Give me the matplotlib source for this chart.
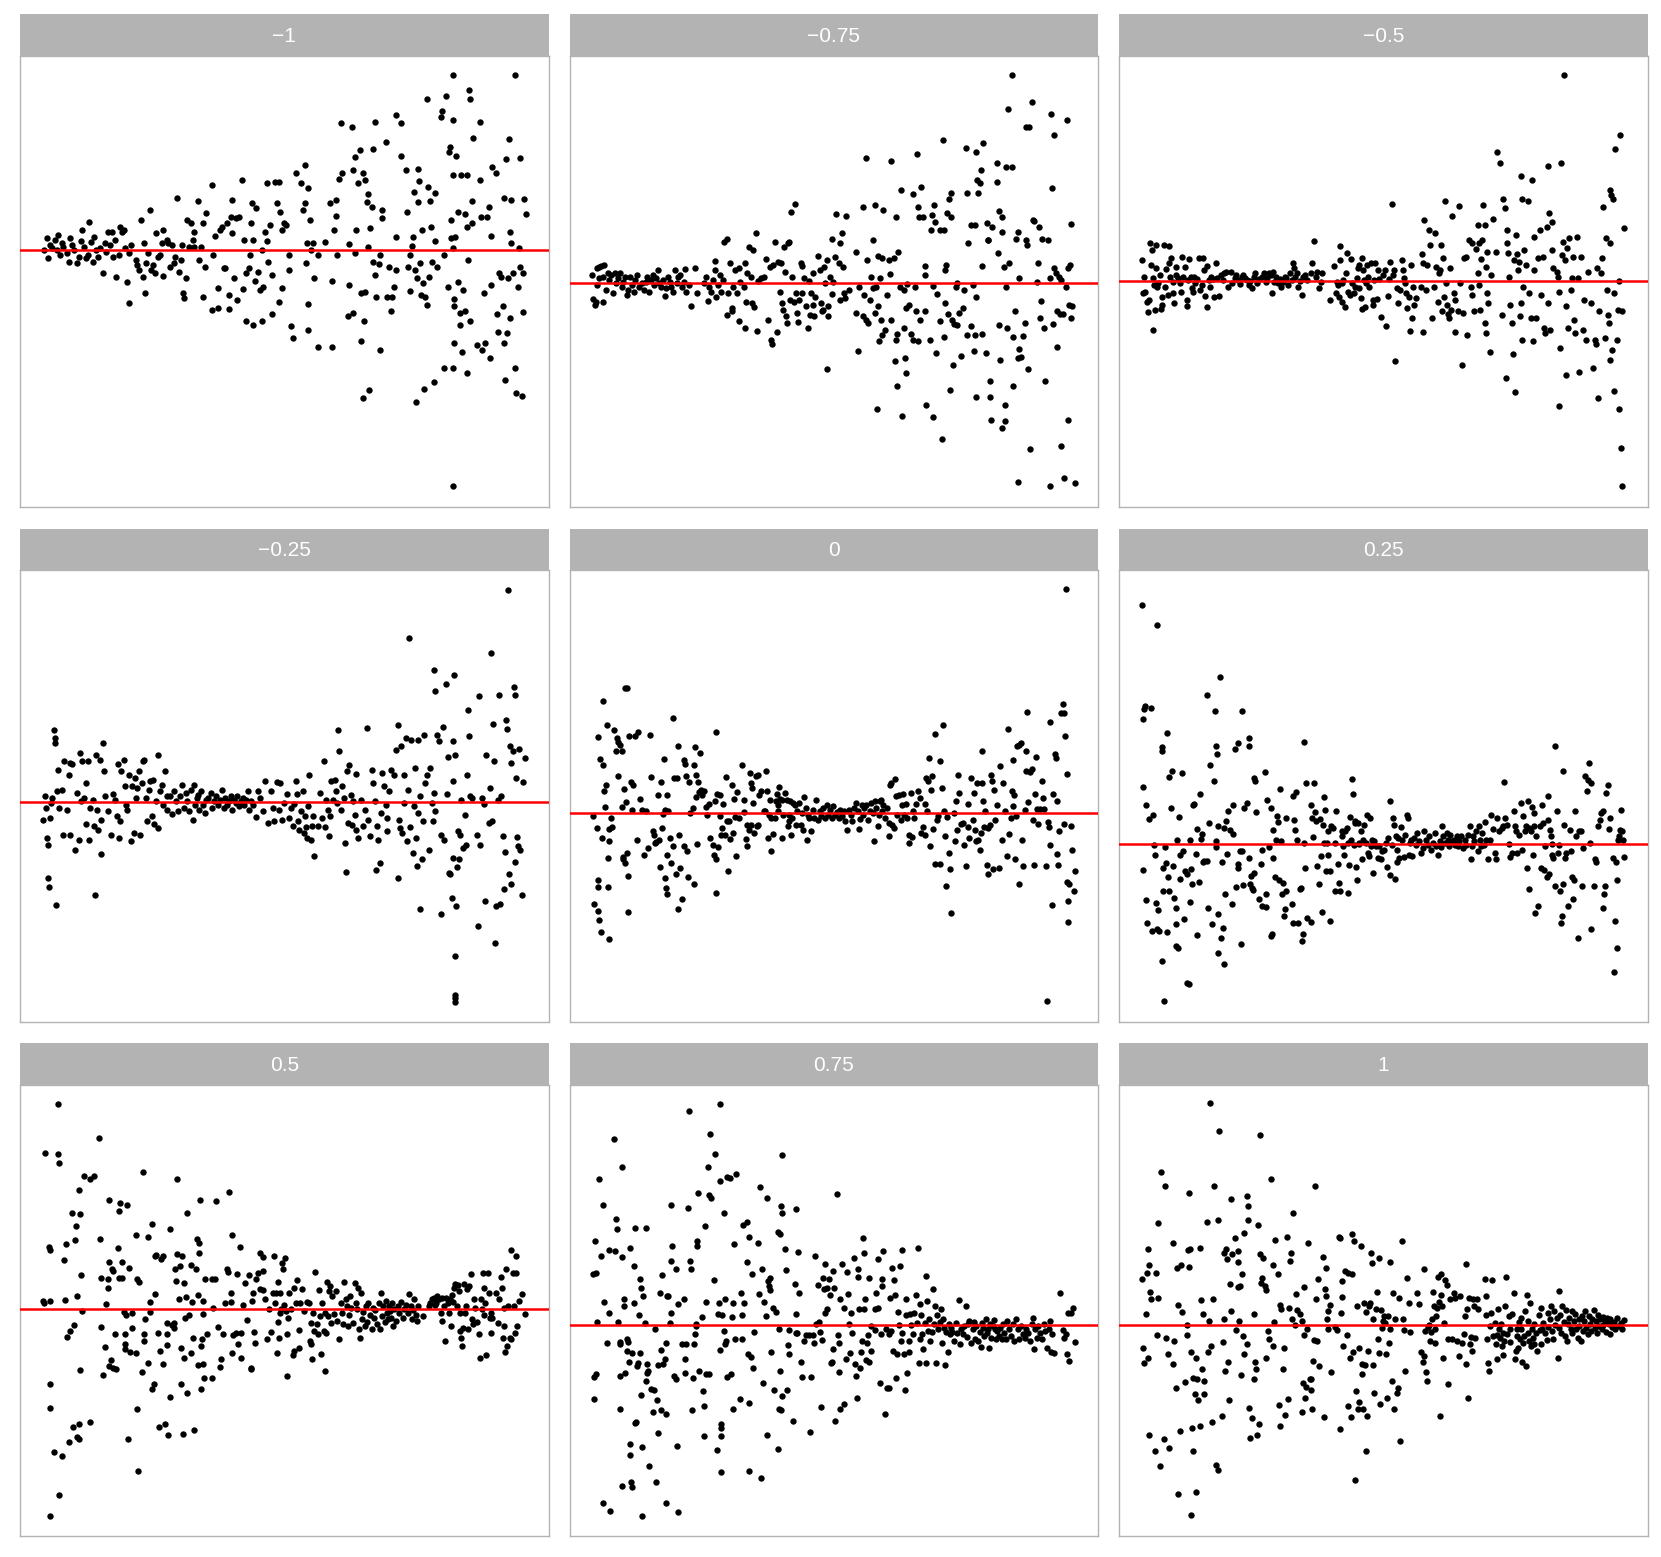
import numpy as np
import matplotlib
matplotlib.use("Agg")
import matplotlib.pyplot as plt

# Facet labels and reference-line level (values read on each panel's own scale;
# y grows downward on the reading scale, so axes are inverted)
panel_labels = ["\u22121", "\u22120.75", "\u22120.5", "\u22120.25", "0", "0.25", "0.5", "0.75", "1"]
hline_y = [720, 820, 812, 833, 866, 958, 810, 858, 858]

pts_m100 = [(92,683),(85,720),(95,745),(100,705),(108,715),(115,690),(120,720),(125,676),(130,735),(135,700),(140,712),(150,730),(155,755),(160,683),(165,705),(170,720),(178,760),(185,740),(190,693),(195,660),(200,710),(205,745),(210,735),(215,635),(220,695),(225,755),(230,680),(235,720),(240,740),(245,715),(255,790),(260,700),(265,725),(270,665),(275,705),(280,665),(285,740),(290,690),(293,800),(300,735),(305,650),(310,665),(315,660),(320,715),(325,815),(330,730),(335,705),(330,880),(350,750),(355,765),(360,780),(365,630),(370,800),(375,700),(378,848),(380,760),(385,730),(390,600),(395,780),(400,765),(405,790),(410,670),(415,740),(420,735),(425,700),(430,660),(430,797),(440,690),(445,700),(450,770),(455,705),(460,760),(465,740),(470,565),(475,785),(480,750),(485,705),(488,850),(490,865),(495,805),(500,630),(505,710),(510,640),(515,690),(518,665),(520,710),(530,572),(535,750),(540,710),(545,640),(545,860),(550,770),(555,610),(570,525),(572,900),(575,735),(580,678),(588,895),(590,835),(595,660),(600,650),(605,775),(610,775),(615,640),(620,855),(622,897),(625,620),(628,670),(630,570),(635,805),(640,625),(645,870),(650,620),(658,510),(662,838),(665,690),(670,935),(670,790),(680,775),(683,735),(685,640),(688,580),(690,690),(690,945),(695,812),(700,595),(705,785),(710,840),(715,720),(715,935),(720,830),(725,665),(730,692),(730,520),(735,755),(740,645),(745,912),(745,795),(755,515),(760,580),(765,515),(765,875),(770,605),(775,660),(775,835),(780,640),(785,645),(795,735),(795,780),(800,950),(805,985),(815,490),(830,520),(835,600),(840,580),(840,465),(845,760),(848,700),(850,535),(850,883),(850,960),(855,630),(858,720),(865,700),(868,805),(878,735),(880,1012),(900,695),(915,580),(920,812),(920,1012),(925,660),(930,570),(930,617),(935,735),(940,508),(945,338),(950,488),(965,920),(968,703),(970,825),(978,352),(980,910),(985,730),(986,440),(980,480),(990,660),(995,520),(1000,420),(1005,850),(1005,993),(1010,1165),(1010,490),(1012,935),(1015,510),(1015,845),(1020,575),(1025,710),(1025,552),(1028,1140),(1030,655),(1035,590),(1038,418),(1040,755),(1045,795),(1045,335),(1048,860),(1055,762),(1058,735),(1058,1022),(1065,625),(1065,600),(1075,395),(1080,860),(1085,770),(1090,905),(1095,860),(1100,830),(1105,315),(1105,780),(1105,680),(1120,340),(1120,437),(1135,480),(1138,605),(1140,770),(1145,735),(1145,842),(1152,708),(1155,680),(1158,545),(1160,780),(1163,1178),(1165,805),(1168,477),(1170,575),(1172,512),(1175,760),(1178,855),(1180,660),(1185,820),(1188,1138),(1190,860),(1195,885),(1195,268),(1198,530),(1200,800),(1205,572),(1208,652),(1210,755),(1215,1118),(1218,692),(1220,550),(1225,770),(1235,320),(1238,303),(1245,1075),(1245,735),(1250,258),(1255,832),(1258,425),(1262,410),(1265,630),(1265,685),(1270,195),(1270,330),(1270,495),(1270,715),(1272,1430),(1272,1075),(1275,868),(1275,890),(1275,1000),(1278,682),(1280,437),(1285,605),(1285,815),(1290,910),(1290,945),(1295,495),(1298,1028),(1300,840),(1305,612),(1305,905),(1310,1090),(1310,495),(1312,650),(1315,750),(1318,240),(1320,268),(1320,935),(1325,640),(1325,572),(1328,385),(1340,1005),(1350,335),(1350,510),(1352,620),(1355,1020),(1360,848),(1365,1000),(1370,620),(1375,590),(1378,1045),(1380,678),(1382,825),(1385,470),(1395,488),(1398,912),(1400,968),(1405,790),(1410,800),(1415,888),(1418,1000),(1420,565),(1422,1110),(1425,448),(1428,970),(1430,805),(1432,388),(1435,665),(1435,925),(1440,700),(1440,570),(1445,790),(1450,1075),(1452,195),(1455,1150),(1460,830),(1462,715),(1465,445),(1465,770),(1470,1160),(1475,790),(1475,908),(1477,568),(1482,612)]

pts_m075 = [(80,795),(82,868),(88,885),(90,875),(95,775),(100,770),(105,768),(110,875),(115,765),(95,825),(100,805),(110,800),(120,840),(125,790),(130,810),(135,795),(140,850),(145,790),(150,820),(155,805),(160,790),(165,830),(170,815),(175,800),(180,855),(185,840),(190,800),(195,825),(200,845),(205,810),(210,795),(215,830),(225,820),(230,840),(235,815),(240,800),(245,845),(250,810),(255,795),(260,825),(265,805),(270,780),(275,820),(280,830),(285,810),(290,858),(295,835),(300,800),(305,815),(310,830),(315,845),(320,780),(325,820),(330,800),(335,795),(340,830),(345,815),(348,778),(352,845),(360,825),(368,890),(378,775),(385,850),(405,820),(410,800),(415,872),(420,830),(425,845),(430,810),(435,780),(437,752),(440,860),(445,825),(450,795),(455,845),(460,810),(462,697),(470,688),(470,915),(475,850),(480,760),(485,905),(487,895),(490,830),(495,780),(500,850),(505,775),(505,935),(510,815),(520,830),(522,760),(522,955),(525,875),(530,790),(535,710),(540,800),(545,880),(548,720),(550,893),(555,670),(558,965),(560,812),(570,805),(578,800),(585,748),(590,930),(595,770),(600,990),(602,1003),(605,765),(610,695),(615,968),(620,755),(625,845),(628,760),(632,880),(635,900),(636,710),(640,785),(642,920),(645,940),(648,700),(650,695),(655,870),(656,605),(660,800),(665,875),(668,583),(670,850),(675,910),(678,938),(680,870),(685,760),(688,768),(690,848),(695,805),(700,890),(705,955),(708,812),(712,915),(715,850),(720,885),(720,790),(725,920),(728,860),(735,738),(740,780),(745,880),(748,905),(750,900),(752,770),(755,820),(760,1078),(762,750),(765,890),(765,920),(770,800),(775,852),(776,688),(780,815),(785,740),(788,613),(795,760),(800,870),(800,698),(805,668),(808,770),(812,848),(815,865),(818,617),(825,840),(845,910),(847,727),(850,1025),(855,830),(865,590),(865,920),(870,855),(874,930),(876,443),(878,750),(880,940),(885,870),(890,800),(895,690),(895,835),(900,910),(902,585),(905,832),(906,1198),(908,738),(910,890),(912,995),(915,805),(918,930),(920,745),(922,975),(925,600),(930,960),(935,855),(940,750),(945,792),(948,453),(948,930),(955,745),(958,1055),(962,622),(962,990),(965,972),(965,1130),(968,725),(972,830),(975,540),(980,1218),(985,840),(985,955),(988,1045),(990,1090),(992,895),(995,823),(1000,885),(1005,972),(1010,552),(1012,990),(1018,830),(1020,905),(1022,432),(1025,590),(1025,995),(1028,620),(1030,930),(1033,532),(1040,620),(1045,905),(1045,768),(1045,795),(1050,1185),(1060,990),(1062,660),(1065,615),(1068,1222),(1070,828),(1072,585),(1075,635),(1078,1030),(1080,852),(1088,660),(1090,935),(1095,1288),(1098,390),(1100,982),(1102,660),(1103,880),(1105,780),(1108,765),(1110,608),(1112,912),(1115,568),(1118,1142),(1120,548),(1120,620),(1123,930),(1128,1065),(1130,942),(1135,830),(1138,818),(1140,945),(1145,910),(1150,1040),(1155,895),(1160,840),(1165,415),(1168,975),(1168,548),(1172,700),(1178,645),(1180,950),(1185,825),(1188,1025),(1190,645),(1190,975),(1195,1163),(1195,860),(1195,425),(1198,510),(1200,548),(1205,520),(1208,480),(1210,768),(1210,972),(1215,400),(1222,1030),(1225,640),(1228,690),(1230,690),(1235,1162),(1235,1115),(1238,1230),(1240,650),(1255,460),(1255,515),(1258,728),(1260,945),(1262,602),(1265,1050),(1268,620),(1270,665),(1270,1255),(1275,770),(1278,1185),(1278,1235),(1280,470),(1282,830),(1285,955),(1288,298),(1290,760),(1298,470),(1298,194),(1300,982),(1302,1128),(1308,905),(1310,688),(1315,665),(1315,1045),(1316,1418),(1318,1018),(1320,805),(1325,1043),(1330,980),(1335,940),(1338,690),(1340,350),(1342,705),(1345,1078),(1348,350),(1350,1318),(1355,275),(1358,630),(1362,632),(1370,815),(1375,760),(1378,652),(1380,925),(1382,872),(1385,688),(1390,955),(1395,1115),(1403,690),(1408,805),(1408,1430),(1412,312),(1415,535),(1418,942),(1420,775),(1420,375),(1425,790),(1428,905),(1430,1012),(1435,800),(1438,912),(1440,1310),(1442,810),(1445,912),(1448,1405),(1455,830),(1458,330),(1460,775),(1462,1230),(1465,885),(1468,765),(1470,643),(1470,925),(1472,890),(1480,1420)]

pts_m050 = [(82,750),(85,850),(88,800),(90,845),(95,875),(98,908),(100,870),(104,698),(108,765),(110,720),(112,805),(113,960),(115,825),(118,902),(120,705),(122,775),(125,830),(128,820),(132,795),(135,898),(138,860),(140,885),(145,705),(148,830),(150,778),(155,855),(158,708),(160,760),(162,800),(165,745),(170,850),(172,815),(175,880),(178,795),(180,770),(185,805),(190,820),(195,845),(198,740),(200,800),(205,770),(210,870),(212,890),(215,810),(218,748),(222,800),(225,835),(228,845),(232,800),(235,820),(240,808),(245,745),(250,840),(255,825),(258,745),(260,780),(265,858),(268,768),(270,892),(275,810),(278,830),(282,800),(288,808),(290,860),(295,760),(298,805),(305,858),(310,795),(315,810),(320,790),(325,785),(330,830),(338,785),(342,820),(350,805),(355,795),(360,810),(365,822),(370,800),(375,795),(380,805),(385,810),(390,825),(395,812),(400,835),(405,800),(410,790),(415,820),(420,808),(430,800),(435,790),(440,815),(445,805),(450,790),(455,795),(458,850),(462,785),(465,815),(470,800),(475,820),(480,808),(485,830),(490,815),(495,800),(500,805),(505,825),(510,790),(515,810),(520,758),(522,775),(525,800),(530,790),(535,830),(540,812),(545,855),(548,800),(555,795),(560,810),(570,790),(575,758),(580,692),(585,800),(590,785),(595,835),(600,815),(602,790),(625,870),(637,768),(645,850),(648,815),(650,825),(652,862),(655,750),(656,708),(660,875),(662,820),(665,810),(670,893),(672,790),(675,730),(680,845),(684,855),(688,748),(690,820),(695,850),(700,830),(705,805),(708,775),(710,835),(712,765),(715,865),(718,898),(720,745),(722,780),(725,810),(728,893),(730,820),(735,765),(738,800),(740,830),(745,760),(750,885),(752,870),(755,810),(758,760),(762,868),(765,780),(770,808),(775,922),(780,795),(785,780),(790,948),(795,858),(798,808),(800,755),(805,582),(808,795),(812,780),(815,1053),(820,835),(825,880),(830,840),(835,750),(838,780),(840,805),(845,820),(848,850),(850,895),(855,860),(860,965),(862,765),(865,925),(868,830),(870,885),(875,865),(890,830),(893,733),(895,968),(897,760),(900,630),(905,840),(908,765),(915,660),(918,705),(922,925),(928,830),(932,668),(935,770),(940,875),(942,790),(945,780),(950,705),(952,905),(955,745),(958,860),(960,572),(962,820),(965,885),(968,912),(972,925),(975,775),(978,900),(982,617),(985,850),(988,870),(990,968),(998,905),(1000,588),(1005,820),(1010,1065),(1012,910),(1015,745),(1020,740),(1025,975),(1030,690),(1035,830),(1038,855),(1040,700),(1045,905),(1050,718),(1055,790),(1057,645),(1058,700),(1060,825),(1062,902),(1065,748),(1068,690),(1070,585),(1075,645),(1075,940),(1078,970),(1080,772),(1082,850),(1083,725),(1085,880),(1090,1028),(1095,795),(1100,628),(1108,725),(1110,425),(1120,460),(1125,915),(1130,567),(1135,595),(1138,1105),(1140,660),(1140,700),(1142,730),(1145,800),(1150,885),(1155,940),(1158,1033),(1160,750),(1162,1148),(1165,675),(1170,732),(1172,780),(1175,755),(1178,920),(1180,880),(1182,497),(1183,568),(1185,990),(1188,830),(1190,720),(1195,765),(1200,572),(1205,850),(1210,925),(1212,510),(1215,995),(1218,780),(1220,680),(1225,925),(1230,745),(1235,660),(1240,855),(1245,740),(1248,955),(1250,970),(1255,650),(1258,880),(1260,468),(1262,608),(1265,960),(1270,635),(1272,720),(1275,775),(1285,785),(1288,800),(1290,1190),(1292,845),(1295,1015),(1298,460),(1300,735),(1302,695),(1305,195),(1308,750),(1310,1095),(1312,890),(1315,715),(1318,955),(1320,685),(1325,840),(1330,805),(1333,742),(1335,930),(1338,970),(1342,682),(1345,805),(1350,1088),(1355,742),(1360,960),(1365,870),(1370,990),(1375,785),(1385,880),(1390,1075),(1395,990),(1398,1003),(1402,775),(1405,1165),(1408,905),(1412,790),(1415,745),(1420,590),(1425,985),(1428,685),(1430,840),(1432,915),(1435,940),(1438,540),(1440,700),(1440,1050),(1442,555),(1445,1022),(1448,568),(1450,1145),(1452,848),(1455,418),(1460,990),(1462,900),(1465,1197),(1465,812),(1468,375),(1470,1315),(1475,1430),(1475,905),(1480,655)]

pts_m025 = [(82,885),(88,815),(90,850),(92,940),(95,960),(95,1062),(98,1088),(100,880),(105,835),(108,820),(112,615),(115,640),(115,655),(118,1142),(120,800),(125,735),(128,850),(135,795),(138,932),(142,708),(150,855),(155,750),(158,932),(160,715),(165,718),(175,975),(180,805),(185,945),(188,685),(190,830),(195,710),(200,820),(205,898),(207,775),(212,710),(215,945),(218,850),(225,825),(230,905),(233,1112),(235,690),(238,855),(240,915),(245,705),(248,988),(250,885),(255,655),(258,738),(262,815),(268,860),(278,930),(285,808),(290,825),(295,875),(298,718),(300,940),(305,890),(308,740),(315,705),(318,785),(322,840),(326,855),(330,752),(335,948),(340,785),(345,925),(348,760),(352,820),(355,790),(360,740),(362,930),(368,775),(372,710),(375,705),(380,820),(384,890),(388,795),(392,770),(396,875),(400,765),(404,898),(408,830),(414,690),(416,910),(420,800),(425,780),(430,840),(435,740),(440,815),(442,855),(448,815),(455,868),(462,800),(468,830),(472,860),(478,815),(485,780),(490,850),(495,805),(500,830),(505,860),(510,795),(515,885),(518,780),(522,840),(528,820),(532,810),(535,855),(540,800),(545,840),(550,865),(555,825),(560,820),(567,805),(572,850),(578,830),(582,815),(590,840),(595,825),(600,795),(605,850),(610,820),(615,840),(620,830),(625,815),(630,855),(635,825),(640,835),(645,815),(650,845),(655,830),(660,820),(665,840),(670,825),(675,800),(680,855),(685,830),(690,840),(698,878),(705,800),(712,820),(718,858),(725,770),(735,895),(742,798),(748,850),(752,888),(760,772),(765,855),(770,775),(775,885),(780,835),(788,808),(795,880),(800,850),(805,905),(810,838),(815,770),(818,808),(820,890),(825,915),(830,860),(835,800),(838,925),(840,875),(845,908),(848,940),(850,845),(852,750),(858,945),(862,905),(865,875),(868,995),(878,905),(885,805),(890,880),(895,710),(898,908),(902,825),(908,855),(910,935),(915,875),(918,770),(922,825),(928,765),(932,800),(935,835),(937,615),(940,678),(945,855),(950,785),(955,820),(958,955),(960,1042),(962,738),(966,895),(970,720),(975,810),(978,900),(982,830),(985,870),(988,748),(990,915),(995,940),(1005,825),(1010,905),(1015,855),(1020,610),(1025,885),(1030,935),(1035,735),(1040,775),(1045,830),(1047,1036),(1050,905),(1052,945),(1058,1015),(1062,865),(1065,745),(1070,785),(1075,840),(1078,880),(1080,920),(1085,800),(1090,735),(1100,750),(1105,675),(1110,600),(1112,1060),(1115,885),(1118,910),(1120,665),(1122,925),(1128,835),(1130,750),(1135,640),(1138,950),(1140,795),(1142,340),(1145,908),(1150,645),(1155,985),(1158,845),(1160,730),(1162,940),(1165,1025),(1168,645),(1170,865),(1175,815),(1176,1155),(1180,1005),(1185,890),(1188,630),(1190,775),(1195,750),(1200,975),(1205,730),(1210,835),(1212,888),(1215,805),(1217,435),(1218,500),(1220,860),(1225,630),(1230,648),(1235,930),(1236,1168),(1242,608),(1245,945),(1250,478),(1252,808),(1255,698),(1258,1045),(1262,1048),(1268,1122),(1270,768),(1270,648),(1272,1000),(1275,450),(1276,1295),(1276,1412),(1276,1422),(1276,1432),(1278,690),(1280,1145),(1282,1028),(1285,920),(1288,1005),(1290,930),(1295,825),(1300,970),(1305,870),(1308,960),(1312,750),(1315,555),(1318,635),(1320,815),(1325,820),(1340,930),(1342,1205),(1345,515),(1348,962),(1355,820),(1360,838),(1365,1130),(1368,690),(1375,895),(1378,790),(1382,385),(1385,890),(1388,598),(1390,710),(1392,1255),(1395,1145),(1400,825),(1405,510),(1408,1138),(1410,815),(1415,935),(1420,1095),(1422,982),(1425,585),(1428,612),(1430,195),(1432,1050),(1435,665),(1438,1080),(1440,715),(1445,680),(1448,488),(1450,510),(1452,1012),(1455,760),(1458,938),(1460,965),(1462,672),(1465,975),(1470,1112),(1475,772),(1480,700)]

pts_000 = [(82,875),(84,1138),(95,910),(97,638),(97,1068),(98,1088),(98,1160),(100,1188),(102,702),(105,1222),(108,940),(112,528),(112,722),(115,798),(118,848),(120,780),(122,600),(125,1000),(125,1088),(128,912),(128,950),(130,1245),(135,880),(138,908),(142,615),(148,680),(152,640),(155,755),(155,652),(160,660),(165,848),(166,678),(168,998),(170,1005),(172,792),(175,1015),(175,490),(178,832),(180,985),(182,490),(185,1055),(185,1162),(188,635),(192,772),(195,855),(198,782),(205,635),(210,945),(212,622),(218,822),(225,855),(230,992),(235,860),(242,970),(248,632),(250,758),(255,920),(258,930),(262,955),(265,952),(270,812),(275,945),(278,1028),(280,772),(282,910),(285,868),(288,702),(290,1060),(292,855),(295,1090),(296,812),(298,1108),(298,992),(300,858),(305,940),(310,1015),(315,580),(315,965),(318,760),(322,1048),(325,760),(328,665),(330,1155),(333,932),(335,1030),(340,1125),(345,965),(345,705),(350,718),(352,755),(355,980),(358,1058),(360,772),(365,865),(372,850),(374,1078),(375,720),(378,668),(380,818),(382,752),(384,958),(386,772),(390,802),(392,685),(395,795),(400,810),(405,800),(410,848),(412,870),(418,838),(422,940),(430,960),(432,990),(435,828),(438,622),(438,1105),(440,1005),(442,808),(445,968),(450,810),(452,875),(455,930),(458,910),(460,838),(465,930),(468,758),(472,890),(474,1040),(478,888),(480,942),(485,780),(490,925),(492,822),(495,878),(498,993),(500,802),(505,880),(515,722),(520,862),(520,825),(525,942),(528,900),(530,965),(535,915),(538,745),(540,775),(542,900),(545,790),(548,835),(550,925),(555,755),(558,905),(560,750),(562,900),(565,810),(570,800),(578,858),(580,860),(585,738),(588,800),(590,940),(592,870),(595,825),(598,880),(600,980),(605,928),(610,880),(612,830),(615,808),(618,860),(620,840),(622,788),(625,822),(630,825),(632,940),(635,870),(640,805),(645,825),(648,905),(650,870),(652,890),(655,830),(658,930),(660,880),(662,835),(668,840),(672,900),(675,860),(680,835),(685,900),(690,865),(692,915),(695,818),(700,850),(702,945),(705,870),(710,880),(715,920),(720,855),(725,880),(730,825),(735,885),(740,860),(745,875),(750,850),(755,880),(760,840),(765,870),(770,855),(775,880),(780,845),(785,870),(790,862),(795,880),(800,855),(805,875),(810,860),(815,890),(820,915),(825,855),(830,872),(835,890),(840,850),(845,835),(850,860),(855,912),(858,882),(862,842),(866,870),(870,850),(875,840),(880,885),(885,860),(890,835),(895,865),(898,948),(902,830),(905,850),(910,905),(912,870),(915,830),(918,825),(922,860),(925,840),(930,880),(935,850),(940,895),(942,935),(945,780),(948,775),(950,900),(955,910),(960,762),(962,815),(965,870),(970,812),(975,885),(978,840),(982,808),(985,870),(990,838),(995,880),(998,955),(1000,930),(1005,805),(1008,938),(1010,860),(1015,880),(1020,838),(1025,800),(1030,820),(1035,925),(1040,908),(1045,930),(1045,838),(1048,760),(1052,860),(1055,768),(1058,700),(1060,965),(1062,795),(1065,755),(1070,912),(1075,627),(1075,1020),(1080,885),(1085,875),(1088,710),(1090,1018),(1095,790),(1098,600),(1100,860),(1105,935),(1108,1085),(1110,878),(1115,985),(1118,1035),(1120,1165),(1130,865),(1132,950),(1135,830),(1138,915),(1142,750),(1145,805),(1150,898),(1155,895),(1160,960),(1165,1025),(1170,908),(1172,838),(1175,940),(1180,760),(1185,885),(1188,805),(1190,915),(1195,948),(1198,775),(1200,945),(1205,975),(1208,925),(1210,678),(1212,775),(1215,830),(1218,908),(1220,860),(1225,1022),(1228,1050),(1230,910),(1235,900),(1238,752),(1240,770),(1242,1035),(1245,795),(1250,885),(1255,840),(1262,1030),(1265,725),(1270,945),(1272,775),(1278,858),(1285,995),(1286,612),(1290,928),(1295,880),(1298,798),(1300,705),(1302,845),(1305,810),(1308,1005),(1310,875),(1312,663),(1318,1080),(1320,660),(1325,655),(1328,945),(1330,1025),(1335,855),(1338,740),(1340,678),(1342,563),(1345,832),(1350,742),(1355,732),(1358,885),(1362,1022),(1365,808),(1368,698),(1372,852),(1375,898),(1380,853),(1385,770),(1388,820),(1392,852),(1398,1025),(1400,1430),(1402,892),(1405,908),(1408,592),(1410,960),(1414,1143),(1418,808),(1422,688),(1425,700),(1428,988),(1430,828),(1432,1022),(1435,918),(1440,565),(1445,538),(1448,565),(1450,898),(1453,635),(1455,193),(1457,1072),(1458,748),(1460,1130),(1462,1192),(1465,1080),(1470,905),(1472,975),(1478,1100),(1480,1040)]

pts_025 = [(82,240),(83,788),(85,1038),(85,583),(88,553),(90,545),(92,1128),(92,840),(95,1196),(100,882),(106,550),(110,1220),(112,870),(115,962),(118,992),(122,1135),(125,300),(125,1215),(128,1158),(130,1220),(138,668),(140,678),(140,1310),(142,1030),(143,1100),(145,1430),(148,968),(150,1015),(152,625),(152,1222),(155,1058),(158,758),(160,1100),(165,850),(168,738),(170,1025),(175,1120),(178,1152),(180,1198),(180,1265),(183,945),(185,1270),(188,878),(190,1065),(192,992),(198,745),(200,980),(202,1185),(205,1040),(210,1050),(212,1375),(218,1380),(220,945),(220,1133),(222,1035),(225,1080),(228,842),(232,838),(238,988),(240,912),(240,1232),(245,1072),(250,808),(252,942),(255,928),(258,1012),(262,1010),(268,1010),(270,512),(272,1152),(275,895),(278,722),(285,1200),(290,768),(292,558),(295,665),(295,948),(295,968),(298,688),(300,903),(300,1170),(302,1285),(308,457),(310,1240),(312,1012),(316,1210),(318,1318),(320,910),(322,1108),(325,888),(328,988),(330,858),(335,915),(342,1140),(344,928),(345,842),(350,672),(355,1088),(358,655),(358,1018),(360,1030),(364,978),(368,1258),(370,558),(372,978),(375,1082),(378,850),(385,835),(390,640),(390,665),(392,1000),(395,1080),(398,1055),(400,1092),(402,1098),(405,1045),(406,760),(410,770),(412,862),(420,1125),(425,1018),(428,1145),(430,975),(438,742),(440,1110),(442,1148),(445,825),(450,968),(455,850),(455,1236),(458,1228),(462,915),(462,1002),(468,1058),(470,945),(472,875),(475,892),(478,1068),(480,792),(485,950),(488,1110),(490,1075),(492,1175),(495,1155),(498,880),(500,1100),(515,1138),(518,815),(520,1195),(522,885),(525,915),(528,802),(530,945),(535,1195),(540,1095),(542,1090),(545,1250),(548,1230),(550,653),(550,955),(555,1030),(558,775),(560,1180),(570,840),(572,1192),(575,880),(578,937),(580,775),(582,862),(585,890),(590,1025),(595,1078),(598,882),(600,995),(602,1163),(605,900),(608,955),(610,818),(612,855),(615,1040),(618,955),(620,920),(622,990),(625,1040),(627,1190),(630,905),(635,910),(640,955),(642,1100),(645,858),(650,1018),(652,1075),(655,1100),(660,920),(662,935),(665,965),(668,990),(670,920),(675,910),(678,1105),(680,955),(682,1022),(685,878),(688,945),(690,762),(692,808),(695,960),(698,890),(700,895),(702,1028),(705,1068),(708,895),(710,955),(712,958),(715,920),(718,1005),(722,945),(725,900),(730,955),(735,870),(738,985),(740,995),(742,880),(745,965),(748,945),(750,1045),(755,948),(760,965),(765,1000),(770,965),(775,1005),(778,980),(782,975),(788,955),(792,1028),(795,940),(800,1052),(802,828),(805,960),(810,880),(812,900),(815,1065),(818,935),(820,1012),(822,975),(825,940),(828,1000),(832,908),(835,945),(840,998),(845,930),(850,870),(852,880),(855,990),(858,955),(862,945),(865,995),(870,940),(875,960),(880,925),(885,950),(890,985),(895,970),(900,918),(905,945),(910,960),(915,935),(920,975),(925,955),(930,925),(935,965),(940,990),(945,948),(948,968),(952,905),(955,935),(960,955),(965,925),(968,945),(972,965),(975,930),(980,950),(985,945),(990,960),(995,935),(998,965),(1002,950),(1008,935),(1012,970),(1018,945),(1022,960),(1028,930),(1032,905),(1035,1005),(1038,965),(1042,935),(1045,950),(1050,920),(1055,980),(1058,905),(1062,945),(1065,965),(1068,925),(1072,960),(1075,892),(1080,945),(1085,1005),(1090,945),(1095,870),(1100,912),(1105,985),(1108,1005),(1112,880),(1118,920),(1125,910),(1130,905),(1132,772),(1135,880),(1140,900),(1145,958),(1150,998),(1155,985),(1160,860),(1162,905),(1165,920),(1170,985),(1175,930),(1180,835),(1185,975),(1188,875),(1192,920),(1195,905),(1198,1032),(1200,828),(1203,1095),(1205,910),(1210,920),(1212,848),(1215,990),(1218,865),(1220,905),(1222,1165),(1225,935),(1230,1145),(1235,905),(1240,1030),(1242,840),(1245,895),(1248,1038),(1250,965),(1255,1058),(1258,885),(1260,815),(1262,1050),(1265,915),(1268,935),(1270,958),(1272,990),(1275,1000),(1280,665),(1280,1085),(1285,858),(1288,985),(1290,960),(1295,1100),(1298,1195),(1300,1175),(1302,1078),(1304,738),(1305,900),(1308,1000),(1312,985),(1318,1145),(1322,915),(1325,980),(1330,1058),(1332,1125),(1335,1068),(1338,860),(1340,935),(1345,1240),(1348,920),(1355,920),(1358,1085),(1362,970),(1368,755),(1372,798),(1375,765),(1378,715),(1380,955),(1385,1215),(1385,775),(1392,1085),(1395,1005),(1398,1012),(1405,905),(1410,885),(1412,865),(1418,1150),(1420,860),(1422,1110),(1425,1085),(1428,805),(1432,780),(1435,912),(1438,880),(1448,1000),(1452,1342),(1455,1190),(1458,1012),(1460,1270),(1460,1068),(1462,945),(1465,935),(1468,915),(1472,855),(1475,920),(1478,945),(1480,998)]

pts_050 = [(82,785),(85,792),(88,340),(98,622),(100,632),(100,785),(100,1035),(100,1430),(102,1105),(112,1238),(125,193),(125,345),(128,372),(128,1368),(135,1250),(142,662),(145,782),(148,615),(150,892),(155,1210),(158,875),(165,520),(168,1165),(172,858),(175,603),(176,560),(178,770),(180,1195),(185,1200),(185,1155),(186,452),(188,525),(188,992),(190,707),(195,815),(200,410),(218,420),(218,1150),(228,410),(242,295),(245,598),(248,715),(248,862),(255,1008),(262,922),(265,795),(268,718),(268,745),(272,482),(272,668),(272,980),(278,962),(280,688),(285,695),(285,985),(290,885),(292,990),(298,626),(300,715),(300,515),(305,490),(310,668),(310,715),(315,818),(318,915),(318,930),(320,885),(322,826),(325,497),(328,1200),(330,685),(332,937),(338,865),(340,822),(352,942),(352,586),(355,1110),(355,718),(357,1295),(360,728),(368,997),(372,398),(375,885),(375,905),(377,840),(385,592),(385,972),(390,818),(392,788),(398,555),(398,1050),(404,1035),(405,765),(405,650),(410,648),(415,880),(418,1163),(420,935),(422,660),(428,975),(430,650),(435,1155),(440,885),(440,918),(442,850),(445,1188),(448,570),(450,1072),(455,858),(460,865),(462,850),(465,690),(468,725),(470,418),(470,645),(475,780),(478,680),(480,925),(482,1035),(485,650),(488,1185),(490,732),(490,955),(492,835),(495,772),(498,1060),(500,522),(505,828),(510,940),(510,678),(512,788),(515,895),(518,1172),(525,690),(528,598),(530,978),(532,768),(535,612),(535,642),(536,483),(538,920),(540,1048),(542,898),(545,975),(545,785),(545,825),(548,1015),(550,718),(558,885),(570,718),(572,1015),(575,805),(580,718),(582,485),(588,862),(595,982),(598,960),(603,885),(608,792),(615,688),(618,698),(622,457),(625,762),(627,788),(628,940),(630,588),(632,888),(640,882),(645,705),(648,915),(652,622),(655,955),(655,880),(660,798),(668,732),(672,842),(678,708),(685,988),(685,985),(688,785),(690,762),(692,878),(695,912),(700,718),(705,700),(710,640),(712,748),(718,695),(720,652),(720,752),(725,778),(730,898),(738,808),(742,878),(748,762),(752,650),(755,790),(758,760),(760,940),(762,848),(762,728),(765,895),(768,820),(770,760),(772,810),(775,672),(778,688),(780,798),(782,655),(785,815),(788,885),(790,1010),(792,835),(795,760),(800,808),(805,948),(808,935),(810,745),(815,790),(818,722),(825,872),(825,925),(828,790),(832,748),(838,815),(848,788),(852,790),(855,905),(858,850),(860,915),(862,960),(865,820),(868,875),(870,698),(875,855),(880,885),(882,752),(885,830),(888,945),(890,790),(895,875),(898,822),(900,995),(902,880),(905,728),(908,830),(912,755),(915,740),(918,850),(920,770),(925,825),(930,755),(935,845),(940,898),(945,790),(948,820),(952,855),(955,728),(960,780),(962,800),(965,860),(968,828),(972,770),(975,805),(980,850),(985,730),(988,790),(992,808),(995,745),(998,870),(1000,895),(1005,760),(1008,840),(1010,818),(1015,860),(1018,800),(1022,848),(1025,790),(1030,828),(1035,870),(1038,805),(1042,835),(1045,812),(1050,855),(1055,790),(1060,870),(1062,760),(1065,830),(1068,800),(1072,848),(1075,785),(1078,820),(1082,840),(1085,800),(1088,815),(1092,835),(1095,790),(1098,860),(1100,810),(1105,845),(1110,800),(1115,820),(1120,788),(1125,835),(1130,810),(1135,798),(1140,822),(1143,765),(1148,800),(1152,840),(1155,812),(1158,780),(1162,828),(1165,845),(1170,800),(1185,830),(1200,800),(1205,790),(1210,780),(1215,775),(1218,798),(1222,790),(1225,770),(1230,780),(1235,822),(1238,775),(1240,845),(1245,800),(1248,905),(1250,775),(1255,790),(1258,820),(1262,780),(1265,860),(1268,768),(1272,788),(1275,745),(1278,735),(1282,800),(1285,738),(1288,755),(1290,875),(1292,820),(1295,895),(1298,920),(1300,865),(1302,735),(1305,822),(1308,800),(1312,750),(1315,870),(1318,740),(1322,705),(1325,840),(1328,855),(1332,778),(1335,805),(1340,848),(1345,885),(1350,955),(1352,780),(1355,810),(1358,700),(1360,745),(1362,828),(1365,790),(1368,948),(1372,700),(1375,760),(1378,835),(1380,880),(1382,820),(1385,835),(1395,760),(1400,850),(1405,780),(1410,712),(1412,745),(1415,895),(1418,805),(1420,860),(1422,938),(1425,690),(1428,920),(1430,800),(1435,895),(1438,632),(1440,900),(1445,700),(1448,800),(1452,880),(1455,650),(1455,700),(1458,860),(1462,785),(1472,765),(1480,825)]

pts_075 = [(82,705),(85,1078),(86,1012),(88,605),(92,1005),(92,702),(95,848),(100,418),(105,650),(110,1392),(112,498),(115,788),(122,910),(128,820),(130,633),(132,1415),(143,298),(145,636),(148,540),(152,570),(155,848),(160,1010),(162,1108),(162,915),(162,908),(165,383),(165,652),(165,1342),(172,780),(172,800),(175,1002),(180,900),(182,935),(185,908),(188,968),(190,625),(190,1215),(190,1248),(192,1328),(195,1345),(195,940),(200,680),(202,790),(204,565),(205,1152),(208,1148),(210,980),(213,970),(215,828),(218,718),(220,942),(222,745),(222,1068),(225,1225),(225,1430),(228,770),(232,852),(235,1025),(235,565),(238,975),(240,1000),(242,995),(245,1280),(250,1048),(255,1118),(258,1052),(262,868),(265,1330),(268,1082),(270,1182),(272,978),(278,760),(280,932),(280,1112),(282,708),(285,975),(290,960),(295,1392),(295,1125),(295,912),(298,770),(300,770),(305,852),(308,498),(310,665),(310,822),(312,620),(318,1010),(322,690),(322,1020),(325,1222),(328,795),(328,1418),(340,915),(345,780),(348,1000),(350,960),(352,915),(358,505),(360,215),(365,665),(368,688),(370,1112),(372,1015),(375,915),(378,885),(380,855),(382,860),(385,605),(385,620),(388,460),(390,995),(400,832),(402,1055),(404,1100),(405,1190),(406,560),(410,788),(410,1005),(415,383),(418,1005),(420,468),(425,475),(423,283),(432,722),(435,345),(442,1232),(445,825),(448,792),(450,932),(450,193),(452,425),(453,1192),(455,1298),(455,1168),(455,1155),(458,828),(463,520),(463,875),(465,915),(465,778),(468,905),(470,1012),(472,412),(480,415),(482,1005),(485,832),(488,792),(490,1108),(492,615),(495,898),(498,405),(508,1078),(512,762),(515,828),(515,898),(518,558),(520,790),(528,548),(530,668),(532,945),(535,1092),(535,592),(535,1295),(540,952),(545,703),(548,985),(550,878),(560,610),(565,765),(568,443),(570,1318),(572,688),(575,1032),(578,788),(585,830),(586,475),(588,1188),(590,725),(592,740),(595,715),(597,752),(598,938),(605,805),(608,1052),(612,818),(618,1230),(620,578),(622,1110),(622,870),(624,995),(625,585),(628,1112),(628,500),(630,520),(630,1070),(632,347),(640,630),(642,692),(645,1052),(648,918),(650,872),(652,945),(662,1145),(668,734),(670,825),(670,882),(672,510),(675,882),(678,638),(680,760),(685,968),(690,1012),(695,905),(700,888),(710,888),(712,1178),(715,1012),(722,888),(725,912),(728,650),(730,855),(735,738),(738,848),(742,878),(745,1103),(748,902),(750,715),(752,748),(755,675),(755,820),(760,745),(762,808),(768,718),(770,768),(772,970),(775,968),(778,928),(780,695),(782,745),(785,1145),(790,463),(792,888),(795,912),(795,998),(798,1108),(800,780),(805,675),(810,1095),(812,805),(818,958),(820,698),(822,765),(825,855),(828,940),(830,820),(835,882),(840,655),(842,975),(845,1010),(848,1075),(850,690),(852,712),(855,810),(858,985),(860,938),(862,905),(865,595),(868,640),(870,808),(872,778),(875,962),(878,910),(880,888),(882,968),(884,717),(888,860),(890,935),(900,808),(902,872),(905,760),(908,660),(910,805),(915,1030),(918,885),(920,720),(922,740),(925,635),(930,1125),(932,870),(935,1045),(940,885),(942,1045),(945,775),(948,875),(950,685),(952,935),(955,722),(958,768),(962,1015),(965,945),(968,818),(970,858),(972,680),(975,905),(978,880),(980,632),(985,945),(988,1052),(990,778),(992,828),(995,1002),(998,938),(1000,905),(1002,825),(1005,858),(1010,885),(1015,820),(1020,768),(1022,850),(1025,625),(1028,972),(1030,898),(1032,795),(1035,828),(1038,885),(1040,930),(1045,852),(1048,710),(1050,970),(1052,785),(1055,875),(1058,840),(1060,905),(1065,878),(1068,748),(1072,855),(1075,800),(1078,972),(1080,828),(1085,870),(1088,848),(1092,810),(1095,910),(1098,840),(1102,865),(1105,978),(1108,878),(1112,938),(1115,855),(1118,885),(1122,865),(1125,878),(1130,905),(1135,850),(1140,880),(1145,782),(1148,915),(1150,870),(1155,885),(1160,860),(1165,800),(1168,892),(1172,855),(1175,845),(1180,912),(1185,870),(1188,848),(1192,900),(1195,860),(1200,905),(1205,878),(1208,922),(1210,850),(1215,865),(1218,890),(1222,840),(1225,880),(1228,870),(1232,925),(1235,855),(1238,895),(1242,860),(1245,842),(1248,870),(1252,900),(1255,875),(1260,890),(1265,865),(1268,900),(1272,855),(1275,880),(1280,900),(1285,845),(1290,870),(1295,890),(1300,855),(1305,905),(1310,840),(1315,870),(1320,900),(1325,860),(1330,885),(1335,895),(1340,870),(1345,880),(1350,905),(1355,855),(1360,835),(1362,928),(1365,870),(1370,895),(1375,860),(1380,880),(1385,900),(1390,855),(1395,875),(1400,925),(1405,870),(1410,845),(1412,938),(1415,885),(1420,940),(1438,760),(1445,872),(1450,895),(1455,885),(1458,945),(1462,820),(1465,965),(1470,820),(1475,805),(1480,908)]

pts_100 = [(82,718),(85,925),(88,970),(92,825),(95,700),(97,628),(98,955),(100,678),(102,1188),(105,758),(108,780),(118,1235),(122,700),(125,888),(128,552),(128,775),(132,1282),(135,397),(145,1200),(148,440),(150,895),(155,945),(158,1228),(170,610),(172,975),(175,905),(180,1045),(182,685),(185,798),(186,1365),(190,1175),(195,678),(198,818),(205,1028),(210,858),(212,888),(215,632),(218,462),(218,682),(220,628),(222,938),(222,1428),(225,1168),(228,1015),(230,1235),(235,1065),(238,955),(238,1358),(240,1020),(242,1082),(248,1160),(250,627),(252,782),(255,990),(258,825),(260,1025),(262,1065),(268,548),(272,938),(275,845),(278,192),(280,920),(283,1150),(288,778),(290,440),(295,1278),(300,1292),(302,543),(305,275),(312,1130),(315,908),(318,840),(320,642),(322,995),(325,628),(328,660),(330,968),(332,1082),(335,735),(338,815),(340,480),(342,645),(350,595),(355,872),(358,742),(360,635),(360,668),(362,845),(365,740),(368,1008),(370,705),(375,890),(377,582),(378,945),(385,470),(386,915),(388,500),(388,542),(392,1105),(395,1198),(400,1138),(405,825),(405,1018),(410,968),(412,988),(415,1188),(418,558),(420,1155),(422,645),(423,288),(425,730),(428,715),(432,655),(438,740),(440,752),(442,955),(446,875),(448,898),(455,418),(460,678),(462,920),(465,848),(468,602),(475,705),(478,1098),(480,1160),(482,798),(485,810),(490,988),(492,925),(495,1128),(502,592),(505,1078),(508,805),(510,665),(512,642),(515,838),(520,522),(525,858),(528,765),(530,812),(540,825),(545,1118),(545,845),(548,1030),(550,888),(552,742),(555,1075),(558,1042),(560,868),(562,610),(568,1020),(570,1052),(572,1018),(575,1108),(578,965),(580,902),(582,440),(585,778),(590,905),(592,720),(595,980),(605,652),(608,1135),(612,750),(615,685),(615,770),(618,840),(620,815),(622,868),(625,798),(630,998),(640,862),(648,872),(652,592),(655,596),(655,1170),(658,822),(660,772),(662,725),(665,920),(670,695),(675,888),(678,700),(680,1100),(685,955),(688,1135),(690,585),(690,705),(692,938),(695,605),(700,1322),(702,1055),(705,800),(708,1110),(712,925),(712,1088),(715,620),(718,1005),(720,975),(722,1110),(725,790),(728,978),(730,1235),(732,818),(735,1132),(738,935),(740,800),(742,790),(745,642),(748,670),(750,838),(752,978),(755,1060),(760,808),(762,758),(765,898),(768,940),(770,655),(772,1095),(775,812),(778,865),(780,845),(782,830),(785,850),(788,945),(792,1075),(795,830),(798,910),(800,870),(802,668),(805,1025),(810,760),(812,1108),(815,840),(820,1062),(825,1045),(828,775),(830,1205),(835,605),(838,838),(842,872),(845,995),(850,715),(855,792),(860,878),(878,760),(885,795),(890,938),(895,968),(898,690),(900,950),(902,875),(905,998),(908,1025),(910,862),(915,858),(918,905),(920,878),(922,840),(925,758),(928,800),(930,870),(932,910),(935,830),(938,805),(940,712),(942,788),(945,1130),(948,705),(950,768),(952,800),(955,955),(958,852),(960,722),(965,738),(968,1035),(970,898),(975,780),(980,900),(985,760),(990,775),(995,905),(1000,950),(1005,770),(1010,910),(1015,885),(1018,830),(1020,975),(1022,675),(1025,810),(1028,1075),(1030,775),(1032,915),(1035,892),(1040,935),(1042,780),(1045,800),(1048,895),(1052,780),(1055,808),(1075,718),(1078,770),(1080,828),(1082,900),(1085,970),(1088,995),(1092,860),(1095,820),(1098,722),(1100,890),(1105,850),(1108,915),(1110,888),(1112,958),(1115,810),(1118,868),(1120,895),(1122,855),(1125,920),(1128,880),(1130,948),(1132,905),(1135,800),(1138,712),(1140,885),(1145,830),(1148,870),(1150,908),(1155,825),(1160,762),(1162,960),(1165,935),(1168,890),(1170,868),(1172,925),(1175,848),(1178,900),(1180,835),(1182,870),(1185,968),(1188,910),(1190,890),(1192,815),(1195,980),(1198,768),(1200,880),(1202,845),(1205,905),(1208,792),(1210,920),(1212,870),(1215,895),(1218,855),(1220,915),(1225,880),(1228,935),(1232,828),(1235,872),(1238,915),(1240,805),(1242,870),(1245,850),(1250,880),(1255,902),(1258,820),(1260,862),(1265,840),(1268,800),(1272,875),(1275,900),(1278,815),(1280,858),(1285,835),(1288,955),(1290,755),(1292,865),(1295,828),(1298,880),(1300,800),(1305,848),(1308,890),(1310,812),(1315,905),(1318,855),(1320,835),(1325,870),(1328,815),(1330,880),(1335,845),(1338,825),(1340,870),(1345,895),(1348,840),(1350,860),(1355,905),(1358,830),(1360,875),(1365,845),(1368,815),(1370,865),(1375,885),(1378,830),(1380,855),(1385,875),(1388,838),(1392,812),(1395,865),(1398,845),(1400,880),(1405,828),(1408,860),(1410,840),(1415,870),(1418,832),(1420,858),(1425,845),(1428,878),(1430,835),(1435,855),(1438,885),(1440,840),(1445,862),(1450,848),(1455,870),(1460,835),(1465,860),(1470,850),(1475,868),(1480,842)]

panels = [pts_m100, pts_m075, pts_m050, pts_m025, pts_000, pts_025, pts_050, pts_075, pts_100]

# ---------------- layout ----------------
W, H = 1661, 1557
fig = plt.figure(figsize=(W / 100, H / 100), dpi=100)
fig.patch.set_facecolor("white")

col_left = [20, 569.5, 1119]
panel_w = 528.5
strip_top = [14, 528.7, 1043.4]
strip_h = 41.7
panel_h = 451.3

border_col = "#B3B3B3"
strip_col = "#B3B3B3"

for i, pts in enumerate(panels):
    r, c = divmod(i, 3)
    x0 = col_left[c]
    st = strip_top[r]
    pt = st + strip_h
    # panel axes
    ax = fig.add_axes([x0 / W, 1 - (pt + panel_h) / H, panel_w / W, panel_h / H])
    arr = np.array(pts, dtype=float)
    ax.scatter(arr[:, 0], arr[:, 1], s=21, c="black", linewidths=0, zorder=2)
    ax.axhline(hline_y[i], color="#FF0000", lw=1.8, zorder=3)
    ax.set_xlim(14, 1548)
    ax.set_ylim(1492, 137)
    ax.set_xticks([])
    ax.set_yticks([])
    for sp in ax.spines.values():
        sp.set_color(border_col)
        sp.set_linewidth(1.0)
    # strip axes
    sax = fig.add_axes([x0 / W, 1 - pt / H, panel_w / W, strip_h / H])
    sax.set_facecolor(strip_col)
    sax.set_xticks([])
    sax.set_yticks([])
    for sp in sax.spines.values():
        sp.set_visible(False)
    sax.text(0.5, 0.47, panel_labels[i], ha="center", va="center", color="white",
             fontsize=15, family=["Liberation Sans", "DejaVu Sans"], transform=sax.transAxes)

fig.savefig("out.png", dpi=100, facecolor="white")
